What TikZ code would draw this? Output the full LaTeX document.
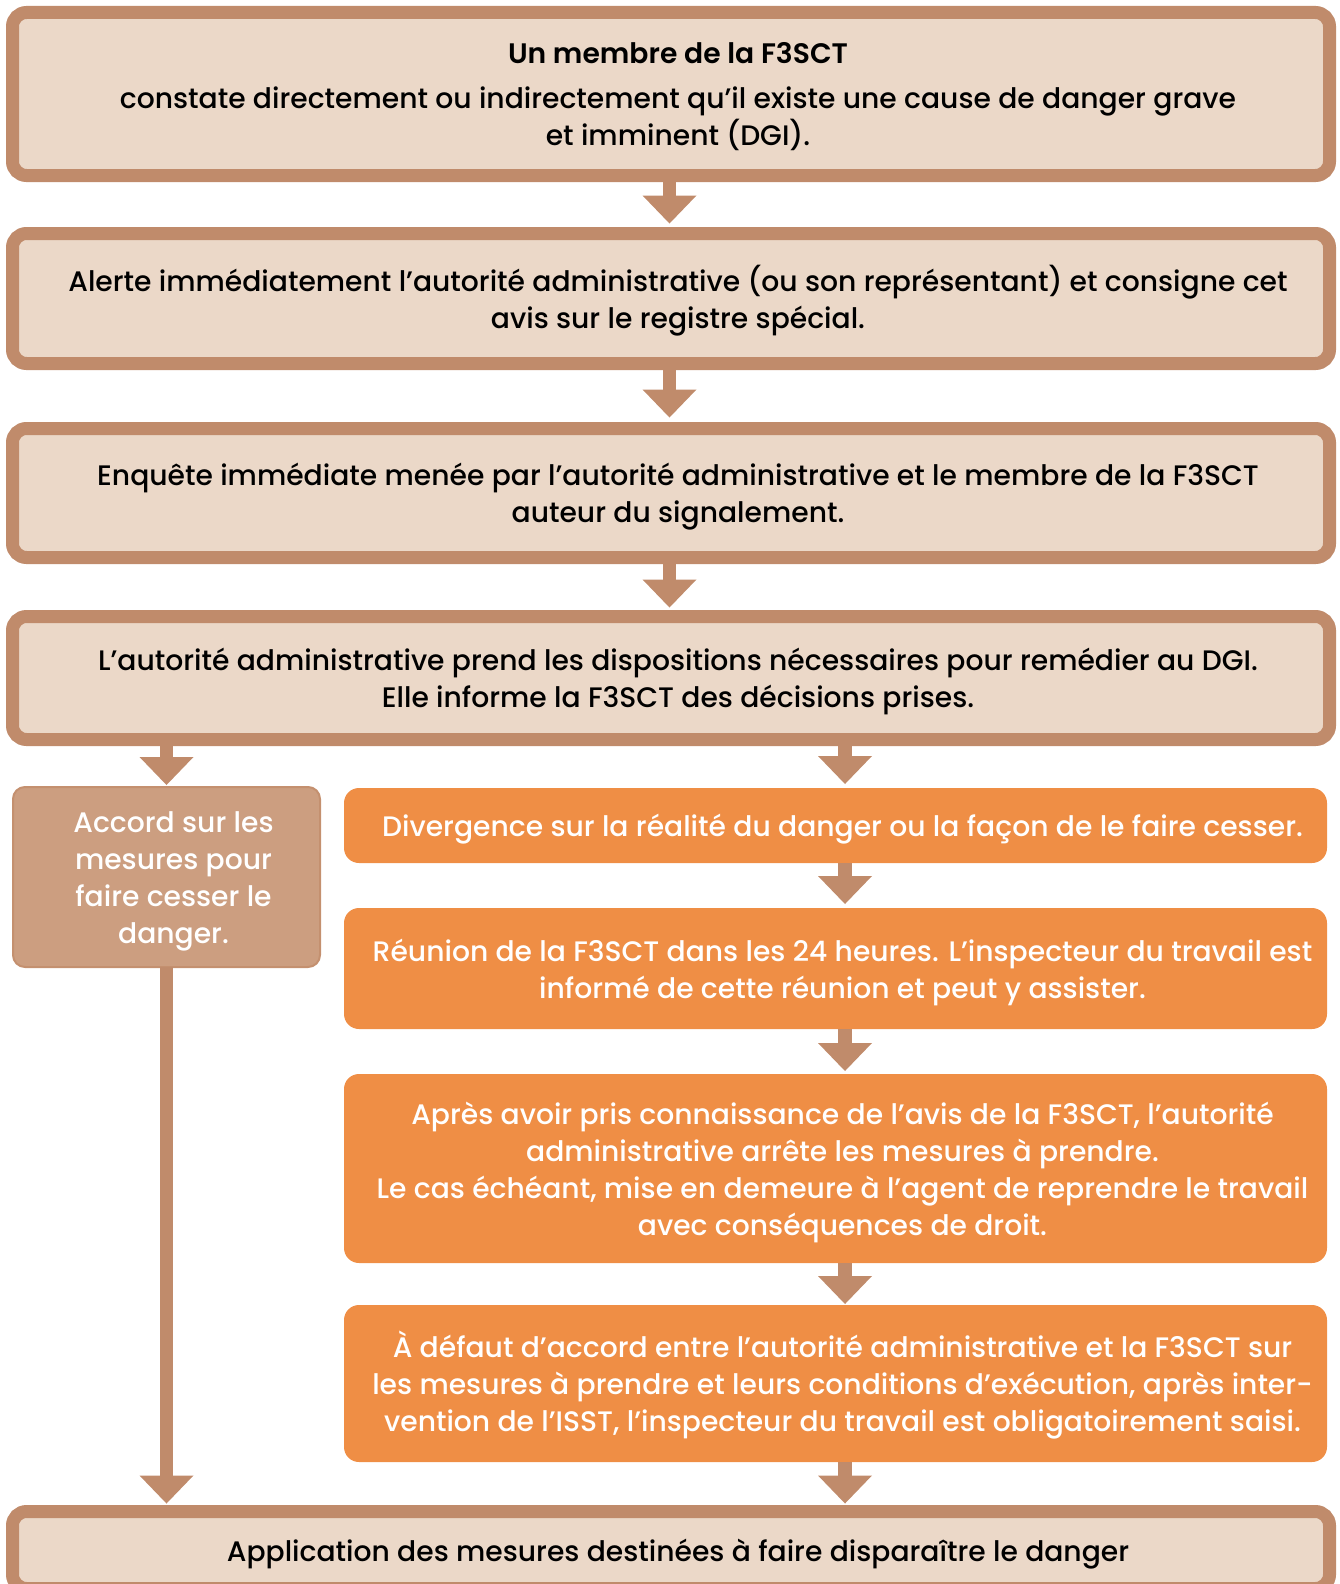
\documentclass[tikz,border=0pt]{standalone}
\usepackage{fontspec}
\setmainfont{Poppins}[UprightFont=* Medium, BoldFont=* SemiBold]
\usepackage{xcolor}
\usetikzlibrary{arrows.meta,calc}
\definecolor{brun}{HTML}{C08B6B}
\definecolor{beige}{HTML}{EBD8C8}
\definecolor{orangeF}{HTML}{EF8E45}
\definecolor{accordF}{HTML}{CC9E80}
\definecolor{accordB}{HTML}{C4906F}
\tikzset{
  TXT/.style={align=flush center, font=\fontsize{28.2}{37}\selectfont,
              execute at begin node={\advance\leftskip 14pt\relax\rule{0pt}{32pt}},
              execute at end node={\rule[-10pt]{0pt}{0pt}}},
  MB/.style={TXT, draw=brun, fill=beige, rectangle, rounded corners=14pt,
             text width=1300pt, minimum width=1317pt,
             inner sep=0pt, outer sep=0pt, line width=13pt},
  OB/.style={TXT, fill=orangeF, rectangle, rounded corners=15pt, text=white,
             text width=975pt, minimum width=983pt,
             inner sep=0pt, outer sep=0pt},
  AB/.style={TXT, draw=accordB, fill=accordF, rectangle, rounded corners=12pt, text=white,
             text width=290pt, minimum width=307pt, minimum height=180pt,
             inner sep=0pt, outer sep=0pt, line width=2pt},
  FA/.style={-{Triangle[width=54pt,length=28pt,line width=0pt]}, line width=13.5pt, draw=brun}
}

\begin{document}
\begin{tikzpicture}[x=1pt, y=-1pt]
\useasboundingbox (0,0) rectangle (1339,1584);
\clip (0,0) rectangle (1339,1584);

% ---- Row 0: signalement ----
\node[MB, minimum height=163pt] (dgi) at (671,94)
    {\textbf{Un membre de la F3SCT}\\[8pt]
     constate directement ou indirectement qu’il existe une cause de danger grave\\
     et imminent (DGI).};

% ---- Row 1: alerte ----
\node[MB, minimum height=130pt] (alerte) at (671,298.5)
    {Alerte immédiatement l’autorité administrative (ou son représentant) et consigne cet\\
     avis sur le registre spécial.};

% ---- Row 2: enquete ----
\node[MB, minimum height=129pt] (enquete) at (671,493)
    {Enquête immédiate menée par l’autorité administrative et le membre de la F3SCT\\
     auteur du signalement.};

% ---- Row 3: dispositions ----
\node[MB, minimum height=123pt] (dispo) at (671,678)
    {L’autorité administrative prend les dispositions nécessaires pour remédier au DGI.\\
     Elle informe la F3SCT des décisions prises.};

% ---- Left column: accord ----
\node[AB] (accord) at (166.5,877)
    {Accord sur les\\ mesures pour\\ faire cesser le\\ danger.};

% ---- Right column: divergence ----
\coordinate (rcol) at (845,0);
\node[OB, minimum height=75pt] (diverg) at (835.5,825.5)
    {Divergence sur la réalité du danger ou la façon de le faire cesser.};
\node[OB, minimum height=121pt] (reunion) at (835.5,968.5)
    {Réunion de la F3SCT dans les 24 heures. L’inspecteur du travail est\\
     informé de cette réunion et peut y assister.};
\node[OB, minimum height=189pt] (avis) at (835.5,1168.5)
    {Après avoir pris connaissance de l’avis de la F3SCT, l’autorité\\
     administrative arrête les mesures à prendre.\\
     Le cas échéant, mise en demeure à l’agent de reprendre le travail\\
     avec conséquences de droit.};
\node[OB, minimum height=157pt] (defaut) at (835.5,1383.5)
    {À défaut d’accord entre l’autorité administrative et la F3SCT sur\\
     les mesures à prendre et leurs conditions d’exécution, après inter-\\
     vention de l’ISST, l’inspecteur du travail est obligatoirement saisi.};

% ---- Row 4: application ----
\node[MB, minimum height=77pt] (appli) at (671,1550)
    {Application des mesures destinées à faire disparaître le danger};

% ---- Main flow arrows ----
\draw[FA, shorten >=10pt] (dgi.south -| 669.5,0) -- (alerte.north -| 669.5,0);
\draw[FA, shorten >=11pt] (alerte.south -| 669.5,0) -- (enquete.north -| 669.5,0);
\draw[FA, shorten >=9pt] (enquete.south -| 669.5,0) -- (dispo.north -| 669.5,0);
\draw[FA, shorten >=2pt] (dispo.south -| accord.north) -- (accord.north);
\draw[FA, shorten >=4pt] (dispo.south -| rcol) -- (diverg.north -| rcol);
\draw[FA, shorten >=4pt] (diverg.south -| rcol) -- (reunion.north -| rcol);
\draw[FA, shorten >=3pt] (reunion.south -| rcol) -- (avis.north -| rcol);
\draw[FA, shorten >=1pt] (avis.south -| rcol) -- (defaut.north -| rcol);
\draw[FA, shorten >=8pt] (defaut.south -| rcol) -- (appli.north -| rcol);
\draw[FA, shorten >=8pt] (accord.south) -- (appli.north -| accord.south);

\end{tikzpicture}
\end{document}
